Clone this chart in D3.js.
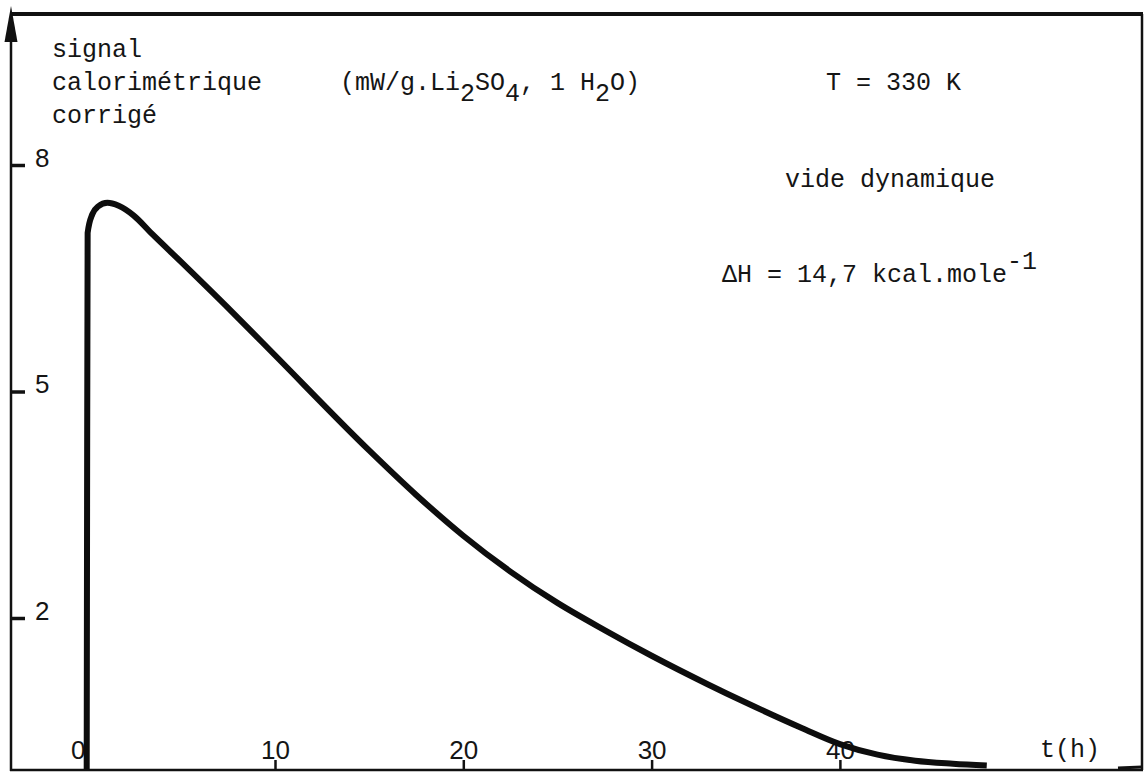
<!DOCTYPE html>
<html>
<head>
<meta charset="utf-8">
<script src="https://cdn.jsdelivr.net/npm/d3@7"></script>
<style>
  html, body { margin: 0; padding: 0; background: #fff; }
  svg { display: block; }
  .mono { font-family: "Liberation Mono", "DejaVu Sans Mono", monospace; font-size: 25px; fill: #151515; }
  .tick text { font-family: "Liberation Sans", "DejaVu Sans", sans-serif; font-size: 26px; fill: #151515; }
</style>
</head>
<body>
<script>
// ---- data ----
const timeH  = [0, 0.02, 0.05, 0.3, 0.6, 1.1, 1.7, 2.5, 3.5, 5, 8.1, 10, 15, 17.5, 20, 22.5, 25, 27.5, 30, 33, 35, 38, 40, 42, 44, 46, 47.8];
const signal = [0, 3.5, 7.1, 7.35, 7.45, 7.5, 7.46, 7.33, 7.08, 6.72, 5.96, 5.48, 4.22, 3.63, 3.09, 2.615, 2.2, 1.84, 1.5, 1.12, 0.88, 0.54, 0.33, 0.19, 0.11, 0.07, 0.045];
const xTicks = [0, 10, 20, 30, 40];
const yTicks = [2, 5, 8];
const yTitleLines = ["signal", "calorimétrique", "corrigé"];
const xTitle = "t(h)";
const noteTemp = "T = 330 K";
const noteVacuum = "vide dynamique";

const W = 1145, H = 772;
const svg = d3.select("body").append("svg").attr("width", W).attr("height", H);
svg.append("rect").attr("width", W).attr("height", H).attr("fill", "#fff");

const x = d3.scaleLinear().domain([0, 50]).range([86.7, 1028.2]);
const y = d3.scaleLinear().domain([0, 10]).range([769, 14]);

const ink = "#111";
// frame
const frame = svg.append("g").attr("stroke", ink).attr("fill", "none");
frame.append("line").attr("x1", 11).attr("x2", 1143).attr("y1", 14).attr("y2", 14).attr("stroke-width", 4);
frame.append("line").attr("x1", 1142).attr("x2", 1142).attr("y1", 14).attr("y2", 770).attr("stroke-width", 2.5);
frame.append("line").attr("x1", 10).attr("x2", 1143).attr("y1", 770).attr("y2", 770).attr("stroke-width", 2.5);
frame.append("line").attr("x1", 11).attr("x2", 11).attr("y1", 30).attr("y2", 771).attr("stroke-width", 2.5);
// arrow head on y axis
svg.append("path").attr("d", "M11,6 L4.5,42 L17.5,42 Z").attr("fill", ink);
// small thick mark at bottom right corner
svg.append("line").attr("x1", 1118).attr("x2", 1142).attr("y1", 768).attr("y2", 767).attr("stroke", ink).attr("stroke-width", 3);

// x axis (ticks point up from the bottom line)
const gx = svg.append("g").attr("transform", "translate(0,770)")
  .call(d3.axisTop(x).tickValues(xTicks).tickSize(10).tickPadding(1).tickFormat(d3.format("d")));
gx.select(".domain").remove();
gx.selectAll(".tick line").attr("stroke", ink).attr("stroke-width", 2.5);
gx.selectAll(".tick text").attr("dy", "0").attr("dx", d => d === 0 ? -9 : 0);

// y axis (ticks point right from the left line)
const gy = svg.append("g").attr("transform", "translate(11,0)")
  .call(d3.axisRight(y).tickValues(yTicks).tickSize(14).tickPadding(10).tickFormat(d3.format("d")));
gy.select(".domain").remove();
gy.selectAll(".tick line").attr("stroke", ink).attr("stroke-width", 3.5);
gy.selectAll(".tick text").attr("dy", "0.05em");

// curve
const line = d3.line().x((d, i) => x(timeH[i])).y(d => y(d)).curve(d3.curveMonotoneX);
svg.append("path").attr("d", line(signal))
  .attr("fill", "none").attr("stroke", "#0d0d0d").attr("stroke-width", 6)
  .attr("stroke-linejoin", "round").attr("stroke-linecap", "butt");

// texts
const txt = svg.append("g").attr("class", "mono");
txt.selectAll("text.ytitle").data(yTitleLines).join("text").attr("class", "ytitle")
  .attr("x", 52).attr("y", (d, i) => 57 + i * 33).text(d => d);

// units with subscripts
const u = txt.append("text").attr("x", 340).attr("y", 90);
u.append("tspan").text("(mW/g.Li");
u.append("tspan").attr("dy", 11).text("2");
u.append("tspan").attr("dy", -11).text("SO");
u.append("tspan").attr("dy", 11).text("4");
u.append("tspan").attr("dy", -11).text(", 1 H");
u.append("tspan").attr("dy", 11).text("2");
u.append("tspan").attr("dy", -11).text("O)");

txt.append("text").attr("x", 826).attr("y", 90).text(noteTemp);
txt.append("text").attr("x", 785).attr("y", 187).text(noteVacuum);
const dh = txt.append("text").attr("x", 722).attr("y", 282);
dh.append("tspan").text("ΔH = 14,7 kcal.mole");
dh.append("tspan").attr("dy", -13).text("-1");

txt.append("text").attr("x", 1040).attr("y", 757).text(xTitle);
</script>
</body>
</html>
